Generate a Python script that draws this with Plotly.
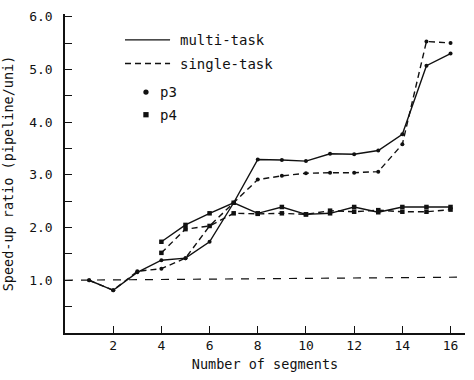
import plotly.graph_objects as go

# ---- data ----
x_p3 = list(range(1, 17))
p3_multi = [1.0, 0.81, 1.15, 1.38, 1.42, 1.73, 2.47, 3.29, 3.28, 3.26, 3.40, 3.39, 3.46, 3.77, 5.07, 5.30]
p3_single = [1.0, 0.81, 1.17, 1.22, 1.42, 2.03, 2.47, 2.91, 2.98, 3.03, 3.04, 3.04, 3.06, 3.58, 5.53, 5.50]
x_p4 = list(range(4, 17))
p4_multi = [1.73, 2.05, 2.27, 2.47, 2.27, 2.39, 2.25, 2.27, 2.39, 2.29, 2.39, 2.39, 2.39]
p4_single = [1.52, 1.97, 2.03, 2.27, 2.26, 2.27, 2.25, 2.32, 2.30, 2.33, 2.30, 2.30, 2.34]
ref_x = [0, 16.6]
ref_y = [1.0, 1.06]

x_ticks = [2, 4, 6, 8, 10, 12, 14, 16]
y_tickvals = [0.5, 1.0, 1.5, 2.0, 2.5, 3.0, 3.5, 4.0, 4.5, 5.0, 5.5, 6.0]
y_ticktext = ["", "1.0", "", "2.0", "", "3.0", "", "4.0", "", "5.0", "", "6.0"]

FONT = "DejaVu Sans Mono"
INK = "#111111"

fig = go.Figure()

fig.add_trace(go.Scatter(x=ref_x, y=ref_y, mode="lines",
                         line=dict(color=INK, width=1.2, dash="8px,8px"),
                         showlegend=False, hoverinfo="skip"))

def add(xs, ys, dash, sym):
    fig.add_trace(go.Scatter(x=xs, y=ys, mode="lines+markers",
                             line=dict(color=INK, width=1.4, dash=dash),
                             marker=dict(symbol=sym, size=4 if sym == "circle" else 4.5, color=INK),
                             showlegend=False))

add(x_p3, p3_multi, "solid", "circle")
add(x_p3, p3_single, "6px,4px", "circle")
add(x_p4, p4_multi, "solid", "square")
add(x_p4, p4_single, "6px,4px", "square")

# ---- hand-drawn style legend ----
shapes = [
    dict(type="line", x0=2.49, x1=4.36, y0=5.56, y1=5.56, xref="x", yref="y",
         line=dict(color=INK, width=1.4)),
    dict(type="line", x0=2.49, x1=4.36, y0=5.11, y1=5.11, xref="x", yref="y",
         line=dict(color=INK, width=1.4, dash="6px,4px")),
    dict(type="circle", x0=3.25, x1=3.47, y0=4.52, y1=4.62, xref="x", yref="y",
         fillcolor=INK, line=dict(color=INK, width=0)),
    dict(type="rect", x0=3.25, x1=3.47, y0=4.09, y1=4.19, xref="x", yref="y",
         fillcolor=INK, line=dict(color=INK, width=0)),
]
annotations = [
    dict(x=4.69, y=5.56, text="multi-task", xanchor="left", yanchor="middle", showarrow=False),
    dict(x=4.69, y=5.11, text="single-task", xanchor="left", yanchor="middle", showarrow=False),
    dict(x=3.85, y=4.57, text="p3", xanchor="left", yanchor="middle", showarrow=False),
    dict(x=3.85, y=4.14, text="p4", xanchor="left", yanchor="middle", showarrow=False),
]
for a in annotations:
    a["font"] = dict(family=FONT, size=14, color=INK)

fig.update_layout(
    width=474, height=380,
    margin=dict(l=65, r=9, t=14, b=47),
    paper_bgcolor="white", plot_bgcolor="white",
    font=dict(family=FONT, size=13, color=INK),
    shapes=shapes, annotations=annotations,
    showlegend=False,
)
fig.update_xaxes(range=[0, 16.6], tickvals=x_ticks, ticks="inside", ticklen=7, tickwidth=1.3,
                 tickcolor=INK, showgrid=False, zeroline=False, showline=True, linecolor=INK,
                 linewidth=1.5, tickfont=dict(family=FONT, size=13),
                 title=dict(text="Number of segments", font=dict(family=FONT, size=13.5), standoff=7))
fig.update_yaxes(range=[0, 6.05], tickvals=y_tickvals, ticktext=y_ticktext, ticks="inside",
                 ticklen=7, tickwidth=1.3, tickcolor=INK, showgrid=False, zeroline=False,
                 showline=True, linecolor=INK, linewidth=1.5, tickfont=dict(family=FONT, size=13),
                 ticklabelstandoff=8,
                 title=dict(text="Speed-up ratio (pipeline/uni)", font=dict(family=FONT, size=13.5), standoff=12))

fig.write_html("out.html")
